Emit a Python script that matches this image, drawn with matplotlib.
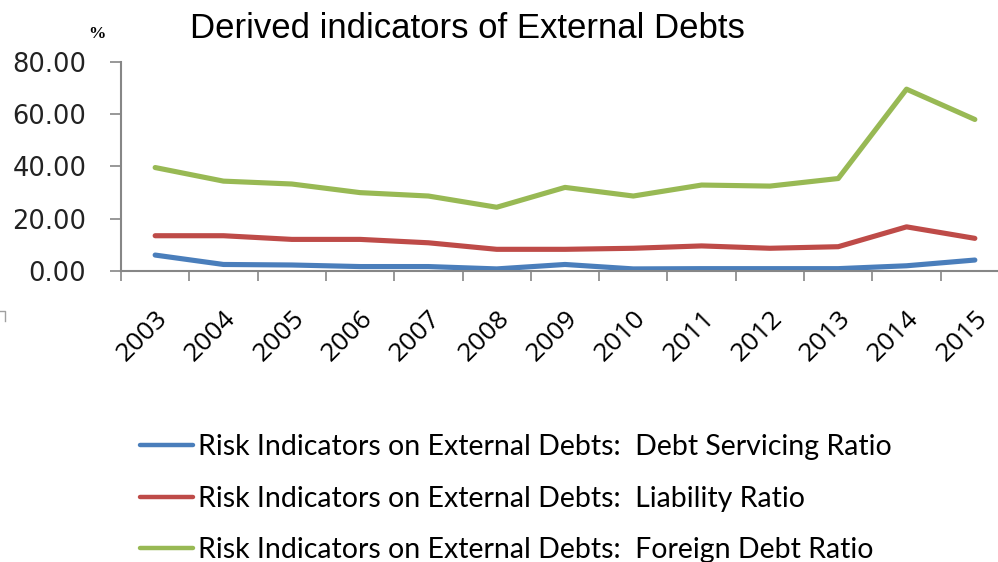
import matplotlib
matplotlib.use('Agg')
import matplotlib.pyplot as plt
import matplotlib.transforms as mtransforms
import numpy as np
from matplotlib.lines import Line2D

# Data (%)
years = ['2003', '2004', '2005', '2006', '2007', '2008', '2009',
         '2010', '2011', '2012', '2013', '2014', '2015']
debt_servicing = [6.1, 2.5, 2.3, 1.7, 1.7, 0.8, 2.5, 0.8, 0.9, 0.9, 0.9, 2.0, 4.2]
liability = [13.5, 13.5, 12.1, 12.1, 10.8, 8.3, 8.3, 8.7, 9.6, 8.7, 9.3, 16.9, 12.5]
foreign_debt = [39.6, 34.4, 33.3, 30.0, 28.7, 24.4, 32.0, 28.7, 32.9, 32.5, 35.4, 69.6, 58.0]

labels = ['Risk Indicators on External Debts:  Debt Servicing Ratio',
          'Risk Indicators on External Debts:  Liability Ratio',
          'Risk Indicators on External Debts:  Foreign Debt Ratio']
colors = ['#4A7EBB', '#BE4B48', '#98B954']

W, H = 998, 562
fig = plt.figure(figsize=(W / 100, H / 100), dpi=100)

# plot area in pixels: x 121..1009 (runs past the right edge), y 62..271
ax = fig.add_axes([121 / W, (H - 271) / H, (1009 - 121) / W, (271 - 62) / H])

x = np.arange(len(years))
for vals, c, lab in zip([debt_servicing, liability, foreign_debt], colors, labels):
    ax.plot(x, vals, color=c, lw=3.7, label=lab, solid_capstyle='round',
            solid_joinstyle='round')

ax.set_xlim(-0.5, len(years) - 0.5)
ax.set_ylim(0, 80)
ax.set_yticks(np.arange(0, 81, 20))
ax.set_yticklabels([f'{v:.2f}' for v in np.arange(0, 81, 20)],
                   fontsize=18.5, family='DejaVu Sans', color='#222222')

ax.set_xticks(x)
ax.set_xticklabels(years, rotation=45, ha='right', rotation_mode='anchor',
                   fontsize=19, family='Open Sans')
ax.set_xticks(np.arange(-0.5, len(years)), minor=True)
# nudge year labels a little to the left, like the reference
shift = mtransforms.ScaledTranslation(-5 / 100, 0, fig.dpi_scale_trans)
for lbl in ax.get_xticklabels():
    lbl.set_transform(lbl.get_transform() + shift)

axis_col = '#868686'
for side in ['top', 'right']:
    ax.spines[side].set_visible(False)
for side in ['left', 'bottom']:
    ax.spines[side].set_color(axis_col)
    ax.spines[side].set_linewidth(1.5)

ax.tick_params(axis='y', which='major', length=8, width=1.2, color=axis_col, pad=17)
ax.tick_params(axis='x', which='major', length=0, pad=25)
ax.tick_params(axis='x', which='minor', length=7.5, width=1.2, color=axis_col,
               direction='out')

fig.text(467 / W, 1 - 28 / H, 'Derived indicators of External Debts',
         ha='center', va='center', fontsize=25, family='Liberation Sans')
fig.text(97 / W, 1 - 34 / H, '%', ha='center', va='center', fontsize=12.5,
         family='Liberation Serif', fontweight='bold')

# small grey corner mark at left edge
fig.add_artist(Line2D([0, 5 / W, 5 / W], [1 - 311 / H, 1 - 311 / H, 1 - 321 / H],
                      color='#A0A0A0', lw=1.0))

leg = fig.legend(loc='upper left', bbox_to_anchor=(140 / W, 1 - 434 / H), frameon=False,
                 prop={'family': 'Lato', 'size': 20.5}, handlelength=1.86,
                 handletextpad=0.18, labelspacing=0.9, borderpad=0, borderaxespad=0)
for h in leg.legend_handles:
    h.set_linewidth(3.2)

fig.savefig('out.png', dpi=100)
